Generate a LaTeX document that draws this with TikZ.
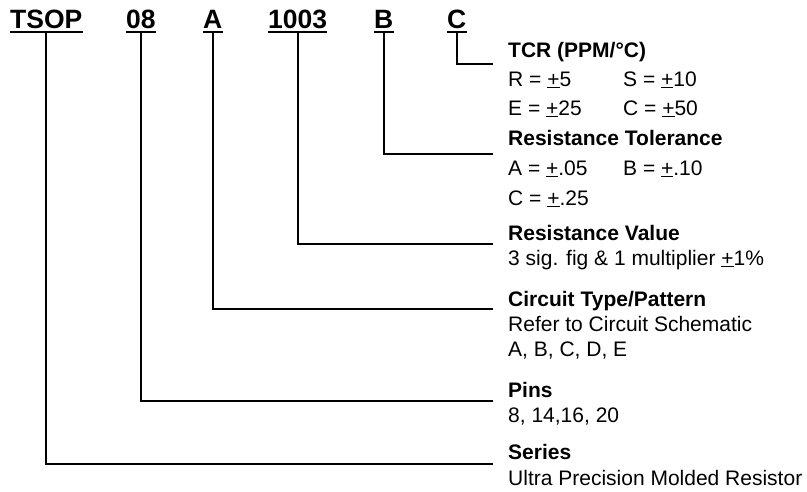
\documentclass[tikz,border=0pt]{standalone}
\usepackage{fontspec}
\setmainfont{Liberation Sans}
\usetikzlibrary{positioning}

\newcommand{\tolpm}{\underline{+}}

\begin{document}
\begin{tikzpicture}[x=1pt,y=-1pt]

\tikzstyle{code} = [font=\fontsize{26.5}{30}\selectfont\bfseries,inner xsep=0,inner ysep=3.7pt,text depth=0pt,anchor=base west]%
\tikzstyle{head} = [font=\fontsize{21}{25}\selectfont\bfseries,inner sep=0,anchor=base west]%
\tikzstyle{desc} = [font=\fontsize{21}{25}\selectfont,inner sep=0,anchor=base west]%
\tikzstyle{uline} = [line width=2pt]%
\tikzstyle{lead} = [line width=2pt]%

\useasboundingbox (0,0) rectangle (807,491);

% part number
\node[code] (tsop) at (10, 28.5) {TSOP};
\node[code] (pins) at (126, 28.5) {08};
\node[code] (circ) at (203, 28.5) {A};
\node[code] (val) at (268, 28.5) {1003};
\node[code] (tol) at (374, 28.5) {B};
\node[code] (tcr) at (447, 28.5) {C};

\foreach \n in {tsop, pins, circ, val, tol, tcr}
    \draw[uline] (\n.south west) -- (\n.south east);

% descriptions
\node[head] (tcrhd) at (508, 57) {TCR (PPM/°C)};
\node[desc] (tcra) at (508, 86) {\makebox[115pt][l]{R = \tolpm5}S = \tolpm10};
\node[desc] (tcrb) at (508, 115) {\makebox[115pt][l]{E = \tolpm25}C = \tolpm50};

\node[head] (tolhd) at (508, 145) {Resistance Tolerance};
\node[desc] (tola) at (508, 175) {\makebox[115pt][l]{A = \tolpm.05}B = \tolpm.10};
\node[desc] (tolb) at (508, 205) {C = \tolpm.25};

\node[head] (valhd) at (508, 240) {Resistance Value};
\node[desc] (vala) at (508, 265) {3 sig. fig \& 1 multiplier \tolpm1\%};

\node[head] (circhd) at (508, 306) {Circuit Type/Pattern};
\node[desc] (circa) at (508, 331) {Refer to Circuit Schematic};
\node[desc] (circb) at (508, 356) {A, B, C, D, E};

\node[head] (pinshd) at (508, 397) {Pins};
\node[desc] (pinsa) at (508, 422) {8, 14,16, 20};

\node[head] (serhd) at (508, 459) {Series};
\node[desc] (sera) at (508, 485) {Ultra Precision Molded Resistor};

% leaders
\draw[lead] (tcr.south) |- ([shift={(-15,7)}]tcrhd.base west);
\draw[lead] (tol.south) |- ([shift={(-15,9)}]tolhd.base west);
\draw[lead] (val.south) |- ([shift={(-15,4)}]valhd.base west);
\draw[lead] (circ.south) |- ([shift={(-15,3)}]circhd.base west);
\draw[lead] (pins.south) |- ([shift={(-15,4)}]pinshd.base west);
\draw[lead] (tsop.south) |- ([shift={(-15,5)}]serhd.base west);

\end{tikzpicture}
\end{document}
